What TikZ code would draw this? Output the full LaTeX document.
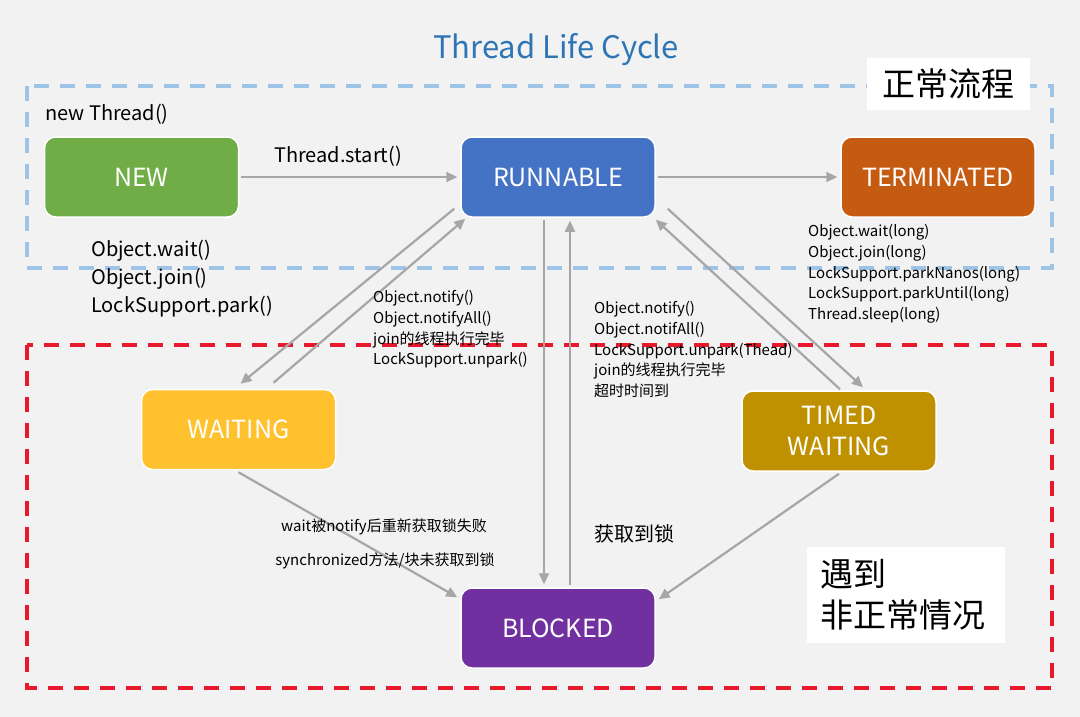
\documentclass[tikz,border=0pt]{standalone}
\usepackage{fontspec}
\setmainfont{Noto Sans CJK SC}
\usetikzlibrary{arrows.meta,positioning}
\definecolor{bggray}{HTML}{F2F2F2}
\definecolor{titleblue}{HTML}{2E75B6}
\definecolor{zoneblue}{HTML}{9DC3E6}
\definecolor{zonered}{HTML}{E8192C}
\definecolor{arrgray}{HTML}{A6A6A6}
\definecolor{newgreen}{HTML}{70AD47}
\definecolor{runblue}{HTML}{4472C4}
\definecolor{termorange}{HTML}{C55A11}
\definecolor{waityellow}{HTML}{FFC12E}
\definecolor{timedgold}{HTML}{BF9000}
\definecolor{blockpurple}{HTML}{7030A0}

\begin{document}
\begin{tikzpicture}[x=1pt,y=-1pt,
state/.style={draw=white,line width=1.5pt,rounded corners=11pt,minimum width=194pt,minimum height=80pt,text=white,align=center,font=\fontsize{25}{31}\selectfont},
note/.style={align=left,anchor=north west,inner sep=0pt,font=\fontsize{15}{20.8}\selectfont},
bignote/.style={align=left,anchor=north west,inner sep=0pt,font=\fontsize{20}{28}\selectfont},
tag/.style={fill=white,inner sep=0pt,font=\fontsize{33}{41}\selectfont},
zone/.style={line width=3.5pt,dash pattern=on 15pt off 11pt},
arr/.style={-{Triangle[length=11pt,width=10pt]},line width=2.2pt,draw=arrgray}
]
\fill[bggray] (0,0) rectangle (1080,717);
\useasboundingbox (0,0) rectangle (1080,717);

% zones
\draw[zone,draw=zoneblue] (27,86) rectangle (1052,268);
\draw[zone,draw=zonered] (27,345) rectangle (1052,688);
\node[tag,minimum width=163pt,minimum height=52pt] (normal) at (948,84) {正常流程};
\node[tag,anchor=north west,minimum width=198pt,minimum height=96pt,align=left,text width=172pt,inner xsep=13pt] (abnormal) at (807,547) {遇到\\非正常情况};

\node[text=titleblue,font=\fontsize{31}{37}\selectfont] (title) at (556,50) {Thread Life Cycle};

% states
\node[state,fill=newgreen] (new) at (141.5,177) {NEW};
\node[state,fill=runblue] (run) at (558,177) {RUNNABLE};
\node[state,fill=termorange] (term) at (938,177) {TERMINATED};
\node[state,fill=waityellow] (wait) at (238.5,429.5) {WAITING};
\node[state,fill=timedgold] (timed) at (839,431) {TIMED\\WAITING};
\node[state,fill=blockpurple] (blocked) at (558,628) {BLOCKED};

% transitions
\draw[arr,shorten <=2pt,shorten >=3pt] (new) -- (run);
\draw[arr,shorten <=2pt,shorten >=3pt] (run) -- (term);
\draw[arr] ([xshift=-6pt,yshift=9pt]run.south west) -- ([xshift=2pt,yshift=5pt]wait.north);
\draw[arr] ([xshift=35pt,yshift=6pt]wait.north) -- ([xshift=5pt,yshift=-1pt]run.south west);
\draw[arr,shorten <=2pt,shorten >=3pt] ([xshift=-14pt]run.south) -- ([xshift=-14pt]blocked.north);
\draw[arr,shorten <=2pt,shorten >=3pt] ([xshift=12pt]blocked.north) -- ([xshift=12pt]run.south);
\draw[arr] ([xshift=12pt,yshift=9pt]run.south east) -- ([xshift=24pt,yshift=3pt]timed.north);
\draw[arr] ([xshift=1pt,yshift=1pt]timed.north) -- ([yshift=-2pt]run.south east);
\draw[arr] ([yshift=-2pt]wait.south) -- ([xshift=-3pt,yshift=-10pt]blocked.north west);
\draw[arr] ([yshift=-2pt]timed.south) -- ([xshift=3pt,yshift=-12pt]blocked.north east);

% labels
\node[bignote] (create) at (45,104) {new Thread()};
\node[bignote] (start) at (274,146) {Thread.start()};
\node[bignote] (toWait) at (91,240) {Object.wait()\\Object.join()\\LockSupport.park()};
\node[note] (fromWait) at (373,290) {Object.notify()\\Object.notifyAll()\\join的线程执行完毕\\LockSupport.unpark()};
\node[note] (fromTimed) at (594,301) {Object.notify()\\Object.notifAll()\\LockSupport.unpark(Thead)\\join的线程执行完毕\\超时时间到};
\node[note] (toTimed) at (808,224) {Object.wait(long)\\Object.join(long)\\LockSupport.parkNanos(long)\\LockSupport.parkUntil(long)\\Thread.sleep(long)};
\node[note,anchor=center] (failLock) at (384,527) {wait被notify后重新获取锁失败};
\node[note,anchor=center] (noLock) at (385,561) {synchronized方法/块未获取到锁};
\node[bignote] (gotLock) at (594,524) {获取到锁};
\end{tikzpicture}
\end{document}
